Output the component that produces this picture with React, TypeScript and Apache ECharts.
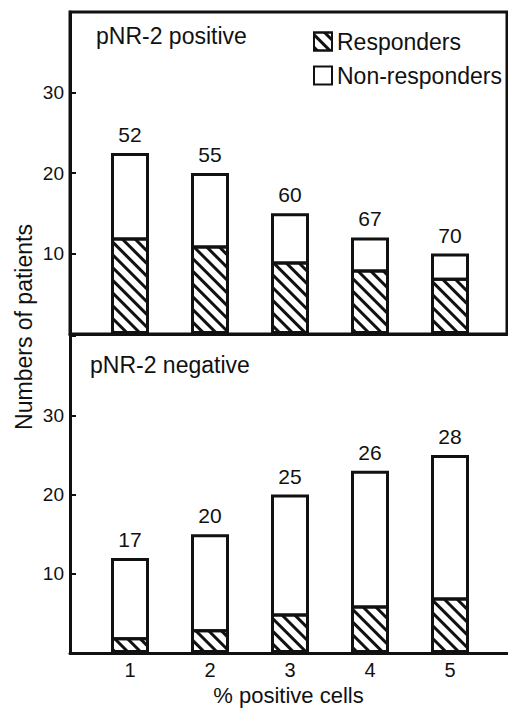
import React, { useEffect, useRef } from "react";
import * as echarts from "echarts";

const categories = [1, 2, 3, 4, 5];
// pNR-2 positive panel
const posResponders = [12, 11, 9, 8, 7];
const posNonResponders = [10.5, 9, 6, 4, 3];
const posPercent = [52, 55, 60, 67, 70];
// pNR-2 negative panel
const negResponders = [2, 3, 5, 6, 7];
const negNonResponders = [10, 12, 15, 17, 18];
const negPercent = [17, 20, 25, 26, 28];
const yTickLabels = [10, 20, 30];

const INK = "#111";
const FONT = "Liberation Sans";

const hatch = {
  symbol: "rect",
  symbolSize: 1,
  color: INK,
  backgroundColor: "#fff",
  dashArrayX: [1, 0],
  dashArrayY: [2.5, 5.8],
  rotation: Math.PI / 4,
};

function makeAxes(gridIndex: number, showXLabels: boolean) {
  const xAxis: any = {
    gridIndex,
    type: "value",
    min: 0.25,
    max: 5.7125,
    interval: 0.25,
    axisLine: { show: true, onZero: false, lineStyle: { color: INK, width: 3 } },
    axisTick: { show: false },
    splitLine: { show: false },
    axisLabel: {
      show: showXLabels,
      fontSize: 20,
      color: INK,
      margin: 7,
      fontFamily: FONT,
      formatter: (v: number) => {
        const r = Math.round(v);
        return Math.abs(v - r) < 1e-6 && categories.includes(r) ? String(r) : "";
      },
    },
  };
  if (showXLabels) {
    xAxis.name = "% positive cells";
    xAxis.nameLocation = "middle";
    xAxis.nameGap = 31;
    xAxis.nameTextStyle = { fontSize: 22, lineHeight: 22, color: INK, fontFamily: FONT };
  }
  const yAxis = {
    gridIndex,
    type: "value",
    min: 0,
    max: 40,
    interval: 10,
    axisLine: { show: true, onZero: false, lineStyle: { color: INK, width: 3 } },
    axisTick: { show: true, inside: true, length: 6, lineStyle: { color: INK, width: 2 } },
    splitLine: { show: false },
    axisLabel: {
      fontSize: 19,
      color: INK,
      margin: 6,
      fontFamily: FONT,
      formatter: (v: number) => (yTickLabels.includes(v) ? String(v) : ""),
    },
  };
  return { xAxis, yAxis };
}

function makeSeries(gridIndex: number, resp: number[], non: number[], pct: number[]) {
  return [
    {
      name: "Non-responders",
      type: "bar",
      xAxisIndex: gridIndex,
      yAxisIndex: gridIndex,
      barWidth: 38,
      barGap: "-100%",
      data: categories.map((c, i) => [c, resp[i] + non[i]]),
      itemStyle: { color: "#fff", borderColor: INK, borderWidth: 3 },
      label: {
        show: true,
        position: "top",
        distance: 8,
        fontSize: 21,
        color: INK,
        fontFamily: FONT,
        formatter: (p: any) => String(pct[p.dataIndex]),
      },
      z: 2,
    },
    {
      name: "Responders",
      type: "bar",
      xAxisIndex: gridIndex,
      yAxisIndex: gridIndex,
      barWidth: 38,
      barGap: "-100%",
      data: categories.map((c, i) => [c, resp[i]]),
      itemStyle: { color: "#fff", borderColor: INK, borderWidth: 3, decal: hatch },
      z: 3,
    },
  ];
}

export default function App() {
  const ref = useRef<HTMLDivElement>(null);
  useEffect(() => {
    if (!ref.current) return;
    const chart = echarts.init(ref.current, undefined, { renderer: "svg" });
    const top = makeAxes(0, false);
    const bottom = makeAxes(1, true);
    chart.setOption({
      animation: false,
      backgroundColor: "#fff",
      textStyle: { fontFamily: FONT, color: INK },
      title: [
        { text: "pNR-2 positive", left: 96, top: 24, padding: 0, textStyle: { fontSize: 23, fontWeight: "normal", color: INK, fontFamily: FONT } },
        { text: "pNR-2 negative", left: 90, top: 353, padding: 0, textStyle: { fontSize: 23, fontWeight: "normal", color: INK, fontFamily: FONT } },
      ],
      legend: {
        data: ["Responders", "Non-responders"],
        orient: "vertical",
        left: 313,
        top: 30,
        padding: 0,
        itemWidth: 18,
        itemHeight: 18,
        itemGap: 11,
        icon: "rect",
        textStyle: { fontSize: 23, color: INK, fontFamily: FONT },
      },
      grid: [
        { left: 70, right: 1, top: 12, height: 322, show: true, borderColor: INK, borderWidth: 3, outerBoundsMode: "none", containLabel: false },
        { left: 70, right: 1, top: 336, height: 317, outerBoundsMode: "none", containLabel: false },
      ],
      xAxis: [top.xAxis, bottom.xAxis],
      yAxis: [top.yAxis, bottom.yAxis],
      graphic: [
        {
          type: "text",
          x: 24,
          y: 327,
          rotation: Math.PI / 2,
          style: {
            text: "Numbers of patients",
            fontSize: 23,
            fontFamily: FONT,
            fill: INK,
            textAlign: "center",
            textVerticalAlign: "middle",
          },
        },
      ],
      series: [
        ...makeSeries(0, posResponders, posNonResponders, posPercent),
        ...makeSeries(1, negResponders, negNonResponders, negPercent),
      ],
    });
    return () => chart.dispose();
  }, []);
  return <div ref={ref} style={{ position: "fixed", left: 0, top: 0, width: 508, height: 708 }} />;
}
